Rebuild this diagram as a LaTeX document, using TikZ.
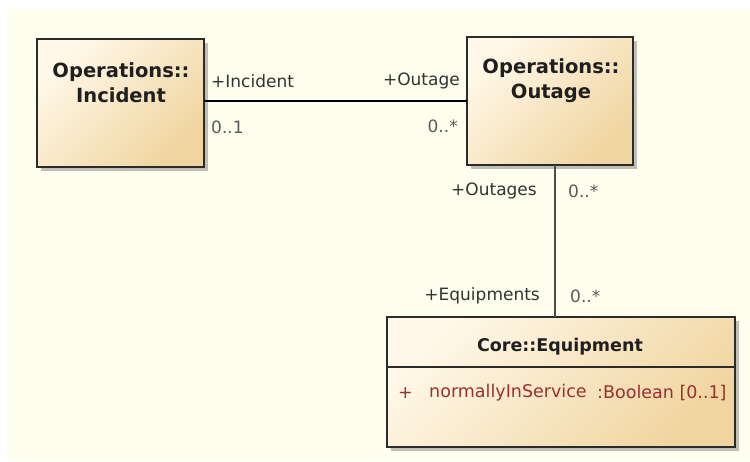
\documentclass[tikz,border=0pt]{standalone}
\usepackage{fontspec}
\setmainfont{DejaVu Sans}
\usetikzlibrary{shadows}
\definecolor{bgcream}{HTML}{FEFEEE}
\definecolor{boxlight}{HTML}{FFF8E8}
\definecolor{boxdark}{HTML}{F0D5A0}
\definecolor{boxline}{HTML}{2B2B2B}
\definecolor{labeltext}{HTML}{333333}
\definecolor{multtext}{HTML}{5A5A5A}
\definecolor{attrred}{HTML}{9A3030}
\begin{document}
\begin{tikzpicture}[x=1pt,y=-1pt,
  classbox/.style={draw=boxline, line width=1.4pt, inner sep=0pt, outer sep=0pt,
    top color=boxlight, bottom color=boxdark, shading angle=45,
    drop shadow={shadow xshift=3.5pt, shadow yshift=-3.5pt, opacity=0.35, fill=black!70}},
  titletext/.style={font=\fontsize{19.5}{25}\selectfont\bfseries, text=black!88, align=center, inner sep=0pt},
  roletext/.style={font=\fontsize{17}{19}\selectfont, text=labeltext, inner sep=0pt},
  multtxt/.style={font=\fontsize{17}{19}\selectfont, text=multtext, inner sep=0pt},
  attrtext/.style={font=\fontsize{17.5}{19}\selectfont, text=attrred, inner sep=0pt, anchor=west},
  assoc/.style={draw=black, line width=1.5pt},
  assocthin/.style={draw=black!70, line width=1.1pt}]
\useasboundingbox (0,0) rectangle (750,461);
\fill[white] (0,0) rectangle (750,461);
\fill[bgcream] (7,9) rectangle (750,461);
% boxes
\node[classbox, minimum width=167pt, minimum height=128pt] (inc) at (120.5,103) {};
\node[classbox, minimum width=166pt, minimum height=128pt] (out) at (550,101) {};
\node[classbox, minimum width=348pt, minimum height=130pt] (eq) at (561,382) {};
% titles
\node[titletext] (inct) at (121,82.5) {Operations::\\Incident};
\node[titletext] (outt) at (551,81) {Operations::\\Outage};
\node[titletext, font=\fontsize{17.5}{20}\selectfont\bfseries] (eqt) at (560,347) {Core::Equipment};
\coordinate (sepy) at (0,367);
\draw[boxline, line width=1.2pt] (eq.west |- sepy) -- (eq.east |- sepy);
% attribute
\node[attrtext] (attrplus) at (398,393) {+};
\node[attrtext] (attrname) at (429,393) {normallyInService};
\node[attrtext] (attrtype) at (597,393) {:Boolean [0..1]};
% connectors
\draw[assoc] (out.west) -- (out.west -| inc.east);
\coordinate (vtop) at ([xshift=5pt]out.south);
\draw[assocthin] (vtop) -- (vtop |- eq.north);
% role and multiplicity labels
\node[roletext, anchor=west] (rinc) at (211,81) {+Incident};
\node[multtxt, anchor=west] (minc) at (211,127) {0..1};
\node[roletext, anchor=east] (rout) at (460,81) {+Outage};
\node[multtxt, anchor=east] (mout) at (458,126) {0..*};
\node[roletext, anchor=east] (routs) at (537,191) {+Outages};
\node[multtxt, anchor=west] (mouts) at (568,191) {0..*};
\node[roletext, anchor=east] (requ) at (540,296) {+Equipments};
\node[multtxt, anchor=west] (mequ) at (570,296) {0..*};
\end{tikzpicture}
\end{document}
